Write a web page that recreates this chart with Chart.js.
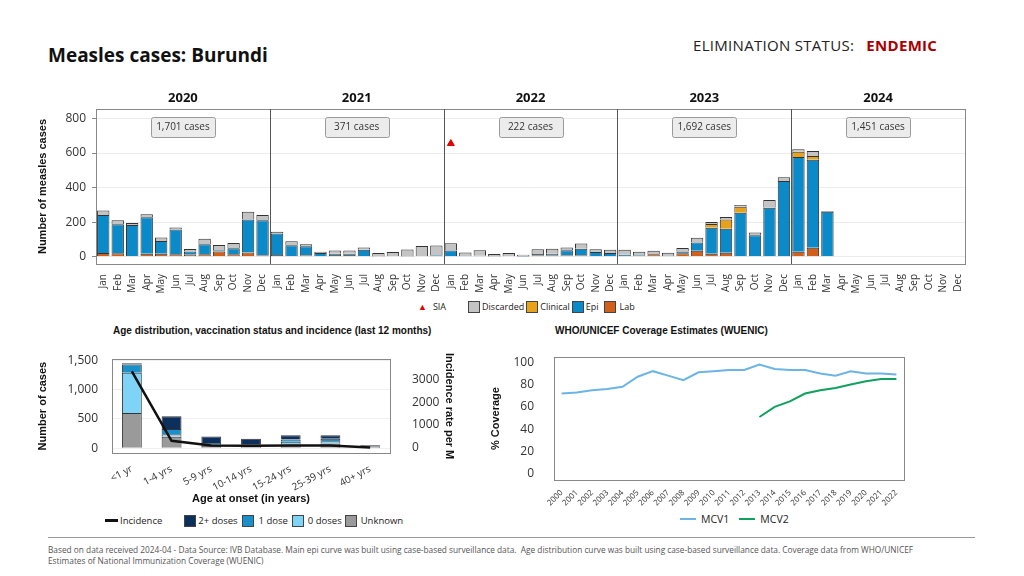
<!DOCTYPE html>
<html>
<head>
<meta charset="utf-8">
<script src="https://cdn.jsdelivr.net/npm/chart.js@4.4.1/dist/chart.umd.min.js"></script>
<style>
  body { margin: 0; width: 1024px; height: 576px; background: #fff; font-family: "Open Sans", sans-serif; color: #222; position: relative; overflow: hidden; }
  .abs { position: absolute; }
  #title { left: 48px; top: 42px; font-size: 19px; font-weight: 700; color: #111; }
  #status { left: 693px; top: 35px; font-size: 15px; color: #222; letter-spacing: 0.3px; }
  #status b { color: #a80000; margin-left: 8px; }
  .legend { display: flex; align-items: center; font-size: 9px; color: #222; white-space: nowrap; }
  .legend .sw { width: 12px; height: 12px; border: 1px solid #444; box-sizing: border-box; margin: 0 2px 0 0; }
  .legend .ln { width: 16px; height: 2px; margin-right: 5px; }
  .ctitle { font-family: "Liberation Sans", Arial, sans-serif; font-weight: 700; font-size: 10px; color: #111; }
  #footer { left: 48px; top: 544px; font-size: 8.3px; color: #555; line-height: 11px; }
  #rule { left: 48px; top: 537px; width: 927px; height: 1px; background: #999; }
</style>
</head>
<body>
<div id="title" class="abs">Measles cases: Burundi</div>
<div id="status" class="abs">ELIMINATION STATUS: <b>ENDEMIC</b></div>

<div class="abs" style="left:30px;top:85px;width:945px;height:215px;"><canvas id="mainChart"></canvas></div>
<div class="abs legend" style="left:418px;top:300px;">
  <span style="color:#e00000;font-size:9px;margin-right:6px;">&#9650;</span><span style="margin-right:22px;">SIA</span>
  <span class="sw" style="background:#c4c4c4"></span><span>Discarded</span>
  <span class="sw" style="background:#e8a21a;margin-left:2px"></span><span>Clinical</span>
  <span class="sw" style="background:#0b8ac9;margin-left:2px"></span><span>Epi</span>
  <span class="sw" style="background:#d2601a;margin-left:5px"></span><span style="margin-left:2px">Lab</span>
</div>

<div class="abs ctitle" style="left:113px;top:325px;">Age distribution, vaccination status and incidence (last 12 months)</div>
<div class="abs" style="left:30px;top:338px;width:430px;height:172px;"><canvas id="ageChart"></canvas></div>
<div class="abs legend" style="left:105px;top:514px;font-size:9.5px;">
  <span class="ln" style="background:#111;height:3px;width:13px;margin-right:2px;"></span><span style="margin-right:22px;">Incidence</span>
  <span class="sw" style="background:#0d2f5c"></span><span>2+ doses</span>
  <span class="sw" style="background:#1a8fc9;margin-left:4px"></span><span style="margin-left:3px">1 dose</span>
  <span class="sw" style="background:#7fd3f7;margin-left:4px"></span><span style="margin-left:2px">0 doses</span>
  <span class="sw" style="background:#9a9a9a;margin-left:3px"></span><span style="margin-left:2px">Unknown</span>
</div>

<div class="abs ctitle" style="left:555px;top:325px;">WHO/UNICEF Coverage Estimates (WUENIC)</div>
<div class="abs" style="left:485px;top:338px;width:430px;height:170px;"><canvas id="covChart"></canvas></div>
<div class="abs legend" style="left:680px;top:512px;font-size:10.5px;">
  <span class="ln" style="background:#6cb4e4;"></span><span style="margin-right:10px;">MCV1</span>
  <span class="ln" style="background:#10a060;"></span><span>MCV2</span>
</div>

<div id="rule" class="abs"></div>
<div id="footer" class="abs">Based on data received 2024-04 - Data Source: IVB Database. Main epi curve was built using case-based surveillance data.&nbsp; Age distribution curve was built using case-based surveillance data. Coverage data from WHO/UNICEF<br>Estimates of National Immunization Coverage (WUENIC)</div>

<script>
// ---- main epi curve data (2020 - 2024, monthly) ----
const years = ['2020', '2021', '2022', '2023', '2024'];
const months = ['Jan', 'Feb', 'Mar', 'Apr', 'May', 'Jun', 'Jul', 'Aug', 'Sep', 'Oct', 'Nov', 'Dec'];
const yearCases = [1701, 371, 222, 1692, 1451];

const labCases = [
  22, 20, 5, 18, 18, 15, 12, 15, 30, 15, 25, 8,
  10, 5, 8, 3, 10, 10, 3, 1, 0, 0, 0, 5,
  0, 3, 3, 0, 0, 2, 8, 8, 8, 8, 3, 3,
  3, 5, 15, 3, 20, 35, 17, 23, 3, 3, 3, 3,
  29, 52, 3, null, null, null, null, null, null, null, null, null
];
const epiCases = [
  220, 168, 178, 210, 73, 142, 19, 58, 8, 34, 190, 203,
  125, 62, 52, 18, 8, 8, 38, 0, 0, 2, 0, 3,
  36, 2, 3, 2, 3, 2, 8, 10, 30, 38, 24, 18,
  8, 3, 0, 2, 10, 48, 151, 139, 252, 121, 280, 435,
  548, 510, 258, null, null, null, null, null, null, null, null, null
];
const clinicalCases = [
  0, 0, 0, 0, 0, 0, 0, 0, 0, 0, 0, 0,
  0, 0, 0, 0, 0, 0, 0, 0, 0, 0, 0, 0,
  0, 0, 0, 0, 0, 0, 0, 0, 0, 0, 0, 0,
  0, 0, 0, 0, 0, 0, 21, 54, 35, 0, 0, 0,
  30, 21, 0, null, null, null, null, null, null, null, null, null
];
const discardedCases = [
  25, 23, 12, 18, 21, 12, 14, 31, 30, 30, 46, 31,
  9, 23, 12, 8, 18, 18, 13, 20, 27, 40, 62, 57,
  42, 20, 31, 14, 18, 8, 27, 28, 15, 31, 17, 20,
  30, 21, 20, 18, 20, 27, 12, 14, 10, 17, 45, 22,
  15, 29, 3, null, null, null, null, null, null, null, null, null
];
const siaMarks = [
  null, null, null, null, null, null, null, null, null, null, null, null,
  null, null, null, null, null, null, null, null, null, null, null, null,
  655, null, null, null, null, null, null, null, null, null, null, null,
  null, null, null, null, null, null, null, null, null, null, null, null,
  null, null, null, null, null, null, null, null, null, null, null, null
];
const mainTicks = [0, 200, 400, 600, 800];

// ---- age distribution (last 12 months) ----
const ageGroups = ['<1 yr', '1-4 yrs', '5-9 yrs', '10-14 yrs', '15-24 yrs', '25-39 yrs', '40+ yrs'];
const unknownDoses = [600, 195, 40, 35, 65, 80, 30];
const zeroDoses = [690, 45, 20, 10, 45, 40, 0];
const oneDose = [140, 90, 30, 25, 40, 40, 0];
const twoPlusDoses = [20, 215, 110, 90, 70, 60, 20];
const incidence = [3360, 300, 90, 80, 90, 90, 5];
const ageTicks = [0, 500, 1000, 1500];
const incTicks = [0, 1000, 2000, 3000];

// ---- WUENIC coverage ----
const covYears = ['2000', '2001', '2002', '2003', '2004', '2005', '2006', '2007', '2008', '2009', '2010', '2011',
  '2012', '2013', '2014', '2015', '2016', '2017', '2018', '2019', '2020', '2021', '2022'];
const mcv1 = [72, 73, 75, 76, 78, 87, 92, 88, 84, 91, 92, 93, 93, 98, 94, 93, 93, 90, 88, 92, 90, 90, 89];
const mcv2 = [null, null, null, null, null, null, null, null, null, null, null, null, null,
  51, 60, 65, 72, 75, 77, 80, 83, 85, 85];
const covTicks = [0, 20, 40, 60, 80, 100];

const tickFont = { family: 'Open Sans', size: 12 };
const boldTitle = { family: 'Liberation Sans', size: 11, weight: 'bold' };

// draws a grey frame round the plot area
const frame = {
  id: 'frame',
  afterDraw(chart) {
    const { ctx, chartArea: a } = chart;
    ctx.save();
    ctx.strokeStyle = '#888';
    ctx.lineWidth = 1;
    ctx.strokeRect(Math.round(a.left) + 0.5, Math.round(a.top) + 0.5, Math.round(a.width), Math.round(a.height));
    ctx.restore();
  }
};

// year headers, separators and case totals on the main chart
const yearPanels = {
  id: 'yearPanels',
  afterDraw(chart) {
    const { ctx, chartArea: a, scales: { x } } = chart;
    ctx.save();
    years.forEach((yr, i) => {
      const first = i * 12, last = i * 12 + 11;
      const left = i === 0 ? a.left : (x.getPixelForValue(first - 1) + x.getPixelForValue(first)) / 2;
      const right = i === years.length - 1 ? a.right : (x.getPixelForValue(last) + x.getPixelForValue(last + 1)) / 2;
      const cx = (left + right) / 2;
      if (i > 0) {
        ctx.strokeStyle = '#555';
        ctx.lineWidth = 1;
        ctx.beginPath();
        ctx.moveTo(Math.round(left) + 0.5, a.top);
        ctx.lineTo(Math.round(left) + 0.5, a.bottom);
        ctx.stroke();
      }
      ctx.fillStyle = '#111';
      ctx.font = 'bold 13px "Open Sans"';
      ctx.textAlign = 'center';
      ctx.textBaseline = 'middle';
      ctx.fillText(yr, cx, a.top - 11);

      const w = 64, h = 20, bx = cx - w / 2, by = a.top + 7.5;
      ctx.fillStyle = '#ececec';
      ctx.strokeStyle = '#9a9a9a';
      ctx.beginPath();
      ctx.roundRect(Math.round(bx) + 0.5, Math.round(by) + 0.5, w, h, 2);
      ctx.fill();
      ctx.stroke();
      ctx.fillStyle = '#333';
      ctx.font = '10px "Open Sans"';
      ctx.fillText(yearCases[i].toLocaleString('en-US') + ' cases', cx, by + h / 2 + 1);
    });
    ctx.restore();
  }
};

function barSet(label, data, color) {
  return { type: 'bar', label, data, backgroundColor: color, borderColor: '#333', borderWidth: 1, order: 1 };
}

new Chart(document.getElementById('mainChart'), {
  data: {
    labels: years.flatMap(() => months),
    datasets: [
      { type: 'line', label: 'SIA', data: siaMarks, stack: 'sia', showLine: false, pointStyle: 'triangle',
        pointRadius: 4, backgroundColor: '#e00000', borderColor: '#e00000', order: 0 },
      barSet('Lab', labCases, '#d2601a'),
      barSet('Epi', epiCases, '#0b8ac9'),
      barSet('Clinical', clinicalCases, '#e8a21a'),
      barSet('Discarded', discardedCases, '#c4c4c4')
    ]
  },
  options: {
    responsive: true, maintainAspectRatio: false, animation: false,
    layout: { padding: { top: 24, right: 10 } },
    datasets: { bar: { barPercentage: 0.9, categoryPercentage: 0.95 } },
    plugins: { legend: { display: false }, tooltip: { enabled: false } },
    scales: {
      x: {
        stacked: true,
        grid: { display: false },
        border: { display: false },
        ticks: { autoSkip: false, minRotation: 90, maxRotation: 90, padding: 2, color: '#333', font: { family: 'Open Sans', size: 10 } },
        afterFit: s => { s.height = 36; }
      },
      y: {
        stacked: true, min: -42, max: 855,
        afterBuildTicks: s => { s.ticks = mainTicks.map(v => ({ value: v })); },
        grid: { color: '#ececec', tickLength: 4, tickColor: '#888' },
        border: { display: false },
        ticks: { color: '#333', font: tickFont, padding: 6 },
        title: { display: true, text: 'Number of measles cases', color: '#111', font: boldTitle, padding: { top: 6, bottom: 2 } },
        afterFit: s => { s.width = 66; }
      }
    }
  },
  plugins: [frame, yearPanels]
});

function ageSet(label, data, color) {
  return { type: 'bar', label, data, backgroundColor: color, borderColor: '#333', borderWidth: 1, yAxisID: 'y', order: 1 };
}

new Chart(document.getElementById('ageChart'), {
  data: {
    labels: ageGroups,
    datasets: [
      { type: 'line', label: 'Incidence', data: incidence, yAxisID: 'y1', borderColor: '#111', borderWidth: 2.5,
        pointRadius: 0, tension: 0, order: 0 },
      ageSet('Unknown', unknownDoses, '#9a9a9a'),
      ageSet('0 doses', zeroDoses, '#7fd3f7'),
      ageSet('1 dose', oneDose, '#1a8fc9'),
      ageSet('2+ doses', twoPlusDoses, '#0d2f5c')
    ]
  },
  options: {
    responsive: true, maintainAspectRatio: false, animation: false,
    layout: { padding: { top: 5 } },
    datasets: { bar: { barPercentage: 0.5, categoryPercentage: 1 } },
    plugins: { legend: { display: false }, tooltip: { enabled: false } },
    scales: {
      x: {
        stacked: true,
        grid: { display: false },
        border: { display: false },
        ticks: { minRotation: 28, maxRotation: 28, padding: 2, color: '#333', font: { family: 'Open Sans', size: 10 } },
        title: { display: true, text: 'Age at onset (in years)', color: '#111', font: boldTitle, padding: { top: 2 } },
        afterFit: s => { s.height = 57; }
      },
      y: {
        stacked: true, min: -81, max: 1519,
        afterBuildTicks: s => { s.ticks = ageTicks.map(v => ({ value: v })); },
        grid: { color: '#f0f0f0', drawTicks: false },
        border: { display: false },
        ticks: { color: '#333', font: tickFont, padding: 14, callback: v => v.toLocaleString('en-US') },
        title: { display: true, text: 'Number of cases', color: '#111', font: boldTitle, padding: { top: 6, bottom: 2 } },
        afterFit: s => { s.width = 82; }
      },
      y1: {
        position: 'right', min: -240, max: 3903,
        afterBuildTicks: s => { s.ticks = incTicks.map(v => ({ value: v })); },
        grid: { display: false },
        border: { display: false },
        ticks: { color: '#333', font: tickFont, padding: 14, callback: v => String(v) },
        title: { display: true, text: 'Incidence rate per M', color: '#111', font: boldTitle, padding: { top: 4, bottom: 0 } },
        afterFit: s => { s.width = 70; }
      }
    }
  },
  plugins: [frame]
});

new Chart(document.getElementById('covChart'), {
  type: 'line',
  data: {
    labels: covYears,
    datasets: [
      { label: 'MCV1', data: mcv1, borderColor: '#6cb4e4', borderWidth: 2, pointRadius: 0, tension: 0 },
      { label: 'MCV2', data: mcv2, borderColor: '#10a060', borderWidth: 2, pointRadius: 0, tension: 0 }
    ]
  },
  options: {
    responsive: true, maintainAspectRatio: false, animation: false,
    layout: { padding: { top: 5, right: 11 } },
    plugins: { legend: { display: false }, tooltip: { enabled: false } },
    scales: {
      x: {
        offset: true,
        grid: { display: false },
        border: { display: false },
        ticks: { autoSkip: false, minRotation: 45, maxRotation: 45, padding: 0, color: '#333', font: { family: 'Open Sans', size: 8 } },
        afterFit: s => { s.height = 28; }
      },
      y: {
        min: -5.4, max: 104.5,
        afterBuildTicks: s => { s.ticks = covTicks.map(v => ({ value: v })); },
        grid: { display: false },
        border: { display: false },
        ticks: { color: '#333', font: tickFont, padding: 12 },
        title: { display: true, text: '% Coverage', color: '#111', font: boldTitle, padding: { top: 4, bottom: 2 } },
        afterFit: s => { s.width = 69; }
      }
    }
  },
  plugins: [frame]
});
</script>
</body>
</html>
